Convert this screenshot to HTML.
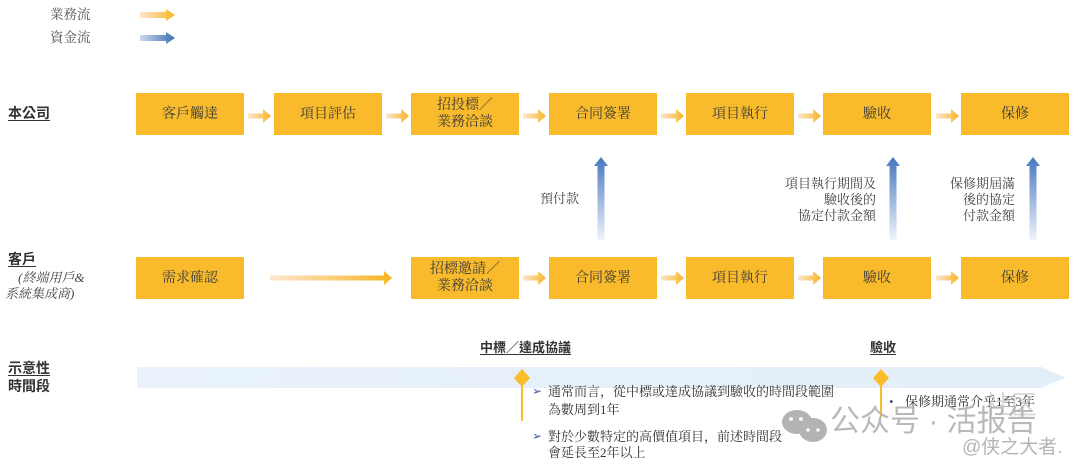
<!DOCTYPE html>
<html><head><meta charset="utf-8">
<style>
html,body{margin:0;padding:0;background:#fff;}
body{width:1080px;height:468px;position:relative;overflow:hidden;font-family:"Liberation Serif","Noto Serif CJK SC",serif;color:#3a3a3a;}
.t{position:absolute;white-space:nowrap;line-height:1;}
.box{position:absolute;background:#f9bb2b;display:flex;align-items:center;justify-content:center;text-align:center;font-size:14px;line-height:17px;color:#3b3b3b;font-family:"Liberation Serif","Noto Serif CJK SC",serif;}
.lbl{position:absolute;font-family:"Liberation Sans","Noto Sans CJK TC",sans-serif;font-weight:bold;font-size:14px;color:#333;line-height:1;}
.u{text-decoration:underline;text-underline-offset:2px;}
.note{position:absolute;font-size:13px;line-height:16px;color:#444;text-align:right;white-space:nowrap;}
.bul{position:absolute;font-size:13px;line-height:1;color:#333;white-space:nowrap;}
</style></head><body>
<svg width="1080" height="468" style="position:absolute;left:0;top:0">
<defs>
<linearGradient id="og" x1="0" y1="0" x2="1" y2="0">
<stop offset="0" stop-color="#fde6cf"/><stop offset="1" stop-color="#f8b524"/>
</linearGradient>
<linearGradient id="bg" x1="0" y1="0" x2="1" y2="0">
<stop offset="0" stop-color="#c9d9ee"/><stop offset="1" stop-color="#3f6fb5"/>
</linearGradient>
<linearGradient id="bv" x1="0" y1="1" x2="0" y2="0">
<stop offset="0" stop-color="#eef3fa"/><stop offset="1" stop-color="#4677bd"/>
</linearGradient>
<linearGradient id="tl" x1="0" y1="0" x2="1" y2="0">
<stop offset="0" stop-color="#e9f2fb"/><stop offset="1" stop-color="#e3eef9"/>
</linearGradient>
</defs>
<!-- legend -->
<path d="M140,12 H166 V9 L175,15 L166,21 V18 H140 Z" fill="url(#og)"/>
<path d="M140,35 H166 V32 L175,38 L166,44 V41 H140 Z" fill="url(#bg)"/>
<!-- top row small arrows -->
<g fill="url(#og)">
<path d="M248,113.5 H263 V109 L271,116 L263,123 V118.5 H248 Z"/>
<path d="M386,113.5 H401 V109 L409,116 L401,123 V118.5 H386 Z"/>
<path d="M523,113.5 H538 V109 L546,116 L538,123 V118.5 H523 Z"/>
<path d="M661,113.5 H676 V109 L684,116 L676,123 V118.5 H661 Z"/>
<path d="M798,113.5 H813 V109 L821,116 L813,123 V118.5 H798 Z"/>
<path d="M936,113.5 H951 V109 L959,116 L951,123 V118.5 H936 Z"/>
<!-- bottom row -->
<path d="M270,275.5 H384 V271 L392,278 L384,285 V280.5 H270 Z"/>
<path d="M523,275.5 H538 V271 L546,278 L538,285 V280.5 H523 Z"/>
<path d="M661,275.5 H676 V271 L684,278 L676,285 V280.5 H661 Z"/>
<path d="M798,275.5 H813 V271 L821,278 L813,285 V280.5 H798 Z"/>
<path d="M936,275.5 H951 V271 L959,278 L951,285 V280.5 H936 Z"/>
</g>
<!-- blue up arrows -->
<g fill="url(#bv)">
<path d="M597.5,240 V166 H594 L601,157 L608,166 H604.5 V240 Z"/>
<path d="M889.5,240 V166 H886 L893,157 L900,166 H896.5 V240 Z"/>
<path d="M1029.5,240 V166 H1026 L1033,157 L1040,166 H1036.5 V240 Z"/>
</g>
<!-- timeline band -->
<path d="M137,367 H1041 L1066,377.5 L1041,388 H137 Z" fill="url(#tl)"/>
<!-- markers -->
<line x1="522" y1="380" x2="522" y2="421" stroke="#f6bd2c" stroke-width="2"/>
<path d="M522,369 L530,378 L522,387 L514,378 Z" fill="#f9be2a"/>
<line x1="881" y1="380" x2="881" y2="417" stroke="#f6bd2c" stroke-width="2"/>
<path d="M881,369 L889,378 L881,387 L873,378 Z" fill="#f9be2a"/>
<!-- wechat icon watermark -->
<g fill="#9a9a9a" opacity="0.75">
<ellipse cx="797" cy="422" rx="15" ry="12"/>
<ellipse cx="813" cy="430" rx="14" ry="12"/>
</g>
<g fill="#fff" opacity="0.9">
<circle cx="791" cy="419" r="2"/><circle cx="801" cy="419" r="2"/>
<circle cx="808" cy="430" r="1.8"/><circle cx="818" cy="430" r="1.8"/>
</g>
</svg>

<!-- legend text -->
<div class="t" style="left:50px;top:8px;font-size:13.5px;color:#555;">業務流</div>
<div class="t" style="left:50px;top:31px;font-size:13.5px;color:#555;">資金流</div>

<!-- left labels -->
<div class="lbl u" style="left:8px;top:106px;">本公司</div>
<div class="lbl u" style="left:8px;top:252px;">客戶</div>
<div class="t" style="left:18px;top:271px;font-size:13px;font-style:italic;color:#444;">(終端用戶&amp;</div>
<div class="t" style="left:5px;top:287px;font-size:13px;font-style:italic;color:#444;">系統集成商)</div>
<div class="lbl u" style="left:8px;top:361px;">示意性</div>
<div class="lbl" style="left:8px;top:379px;">時間段</div>

<!-- top row boxes -->
<div class="box" style="left:136px;top:93px;width:108px;height:42px;">客戶觸達</div>
<div class="box" style="left:274px;top:93px;width:108px;height:42px;">項目評估</div>
<div class="box" style="left:411px;top:93px;width:108px;height:42px;">招投標／<br>業務洽談</div>
<div class="box" style="left:549px;top:93px;width:108px;height:42px;">合同簽署</div>
<div class="box" style="left:686px;top:93px;width:108px;height:42px;">項目執行</div>
<div class="box" style="left:823px;top:93px;width:108px;height:42px;">驗收</div>
<div class="box" style="left:961px;top:93px;width:108px;height:42px;">保修</div>

<!-- bottom row boxes -->
<div class="box" style="left:136px;top:257px;width:108px;height:42px;">需求確認</div>
<div class="box" style="left:411px;top:257px;width:108px;height:42px;">招標邀請／<br>業務洽談</div>
<div class="box" style="left:549px;top:257px;width:108px;height:42px;">合同簽署</div>
<div class="box" style="left:686px;top:257px;width:108px;height:42px;">項目執行</div>
<div class="box" style="left:823px;top:257px;width:108px;height:42px;">驗收</div>
<div class="box" style="left:961px;top:257px;width:108px;height:42px;">保修</div>

<!-- money labels -->
<div class="note" style="left:540px;top:191px;">預付款</div>
<div class="note" style="right:204px;top:176px;">項目執行期間及<br>驗收後的<br>協定付款金額</div>
<div class="note" style="right:65px;top:176px;">保修期屆滿<br>後的協定<br>付款金額</div>

<!-- timeline labels -->
<div class="lbl u" style="left:480px;top:341px;font-size:13px;font-weight:bold;">中標／達成協議</div>
<div class="lbl u" style="left:870px;top:341px;font-size:13px;">驗收</div>

<div class="bul" style="left:532px;top:385px;color:#3d5a9a;font-size:12px;">➢</div>
<div class="bul" style="left:548px;top:385px;">通常而言，從中標或達成協議到驗收的時間段範圍</div>
<div class="bul" style="left:548px;top:403px;">為數周到1年</div>
<div class="bul" style="left:532px;top:430px;color:#3d5a9a;font-size:12px;">➢</div>
<div class="bul" style="left:548px;top:430px;">對於少數特定的高價值項目，前述時間段</div>
<div class="bul" style="left:548px;top:446px;">會延長至2年以上</div>

<div class="bul" style="left:889px;top:395px;color:#3d5a9a;">•</div>
<div class="bul" style="left:905px;top:395px;">保修期通常介乎1至3年</div>

<!-- watermark -->
<div class="t" style="left:985px;top:392px;font-size:26px;color:#c8c8c8;font-family:'Liberation Sans','Noto Sans CJK SC',sans-serif;opacity:0.7;">社区</div>
<div class="t" style="left:830px;top:407px;font-size:30px;color:#adadad;font-family:'Liberation Sans','Noto Sans CJK SC',sans-serif;opacity:0.85;">公众号 · 活报告</div>
<div class="t" style="left:962px;top:438px;font-size:19px;color:#b5b5b5;font-family:'Liberation Sans','Noto Sans CJK SC',sans-serif;">@侠之大者.</div>
</body></html>
